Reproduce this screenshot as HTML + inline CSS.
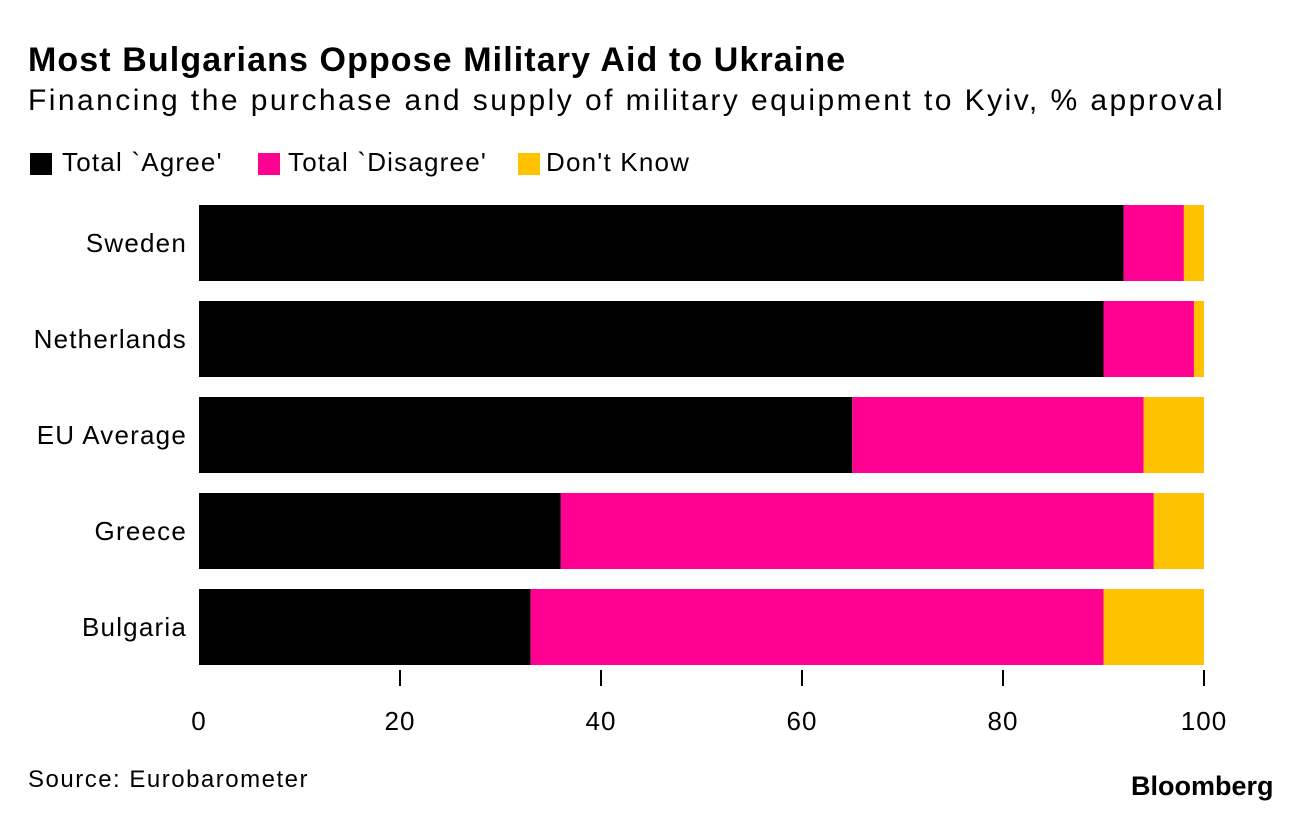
<!DOCTYPE html>
<html><head><meta charset="utf-8"><style>
body{margin:0;background:#fff;font-family:"Liberation Sans",Arial,sans-serif;}
#wrap{position:relative;width:1296px;height:820px;overflow:hidden;}
.t{position:absolute;white-space:nowrap;color:#000;}
.sq{position:absolute;width:22px;height:22px;top:153px;}
.lg{position:absolute;top:147px;font-size:26px;letter-spacing:1.2px;white-space:nowrap;}
</style></head><body>
<div id="wrap">
<div class="t" style="left:28px;top:41px;font-size:34px;font-weight:bold;letter-spacing:1.1px;">Most Bulgarians Oppose Military Aid to Ukraine</div>
<div class="t" style="left:28px;top:84px;font-size:30px;letter-spacing:2.45px;">Financing the purchase and supply of military equipment to Kyiv, % approval</div>
<div>
<div class="sq" style="left:30px;background:#000"></div>
<div class="lg" style="left:62px">Total `Agree'</div>
<div class="sq" style="left:258px;background:#ff0090"></div>
<div class="lg" style="left:288px">Total `Disagree'</div>
<div class="sq" style="left:518px;background:#ffc200"></div>
<div class="lg" style="left:546px">Don't Know</div>
</div>
<svg id="chart" width="1296" height="820" style="position:absolute;left:0;top:0"></svg>
<div class="t" style="left:28px;top:766px;font-size:24px;letter-spacing:1.5px;">Source: Eurobarometer</div>
<div class="t" style="left:1131px;top:771px;font-size:27px;font-weight:bold;">Bloomberg</div>
</div>
<script>
const categories=["Sweden","Netherlands","EU Average","Greece","Bulgaria"];
const agree=[92,90,65,36,33];
const disagree=[6,9,29,59,57];
const dontKnow=[2,1,6,5,10];
const ticks=[0,20,40,60,80,100];
const NS="http://www.w3.org/2000/svg";
const svg=document.getElementById('chart');
const x0=199,x1=1204,yTop=205,step=96,bh=76;
const xs=v=>x0+(x1-x0)*v/100;
function mk(t,a){const e=document.createElementNS(NS,t);for(const k in a)e.setAttribute(k,a[k]);svg.appendChild(e);return e;}
const series=[[agree,"#000","agree"],[disagree,"#ff0090","disagree"],[dontKnow,"#ffc200","dont-know"]];
categories.forEach((c,i)=>{
 const y=yTop+i*step;let acc=0;
 series.forEach(s=>{
  const v=s[0][i];
  const r=mk('rect',{x:xs(acc),y:y,width:xs(acc+v)-xs(acc),height:bh,fill:s[1]});
  
  
  acc+=v;
 });
 const t=mk('text',{x:187,y:y+bh/2+9,'text-anchor':'end','font-size':26,'letter-spacing':1.2,'font-family':'Liberation Sans, Arial, sans-serif'});
 t.textContent=c;
 
 
});
ticks.forEach(v=>{
 const x=xs(v);
 if(v>0){const l=mk('line',{x1:x,x2:x,y1:670,y2:686,stroke:'#000','stroke-width':2});
 
 }
 const t=mk('text',{x:x,y:730,'text-anchor':'middle','font-size':26,'letter-spacing':1,'font-family':'Liberation Sans, Arial, sans-serif'});
 t.textContent=v;
 
 
});
</script>
</body></html>
